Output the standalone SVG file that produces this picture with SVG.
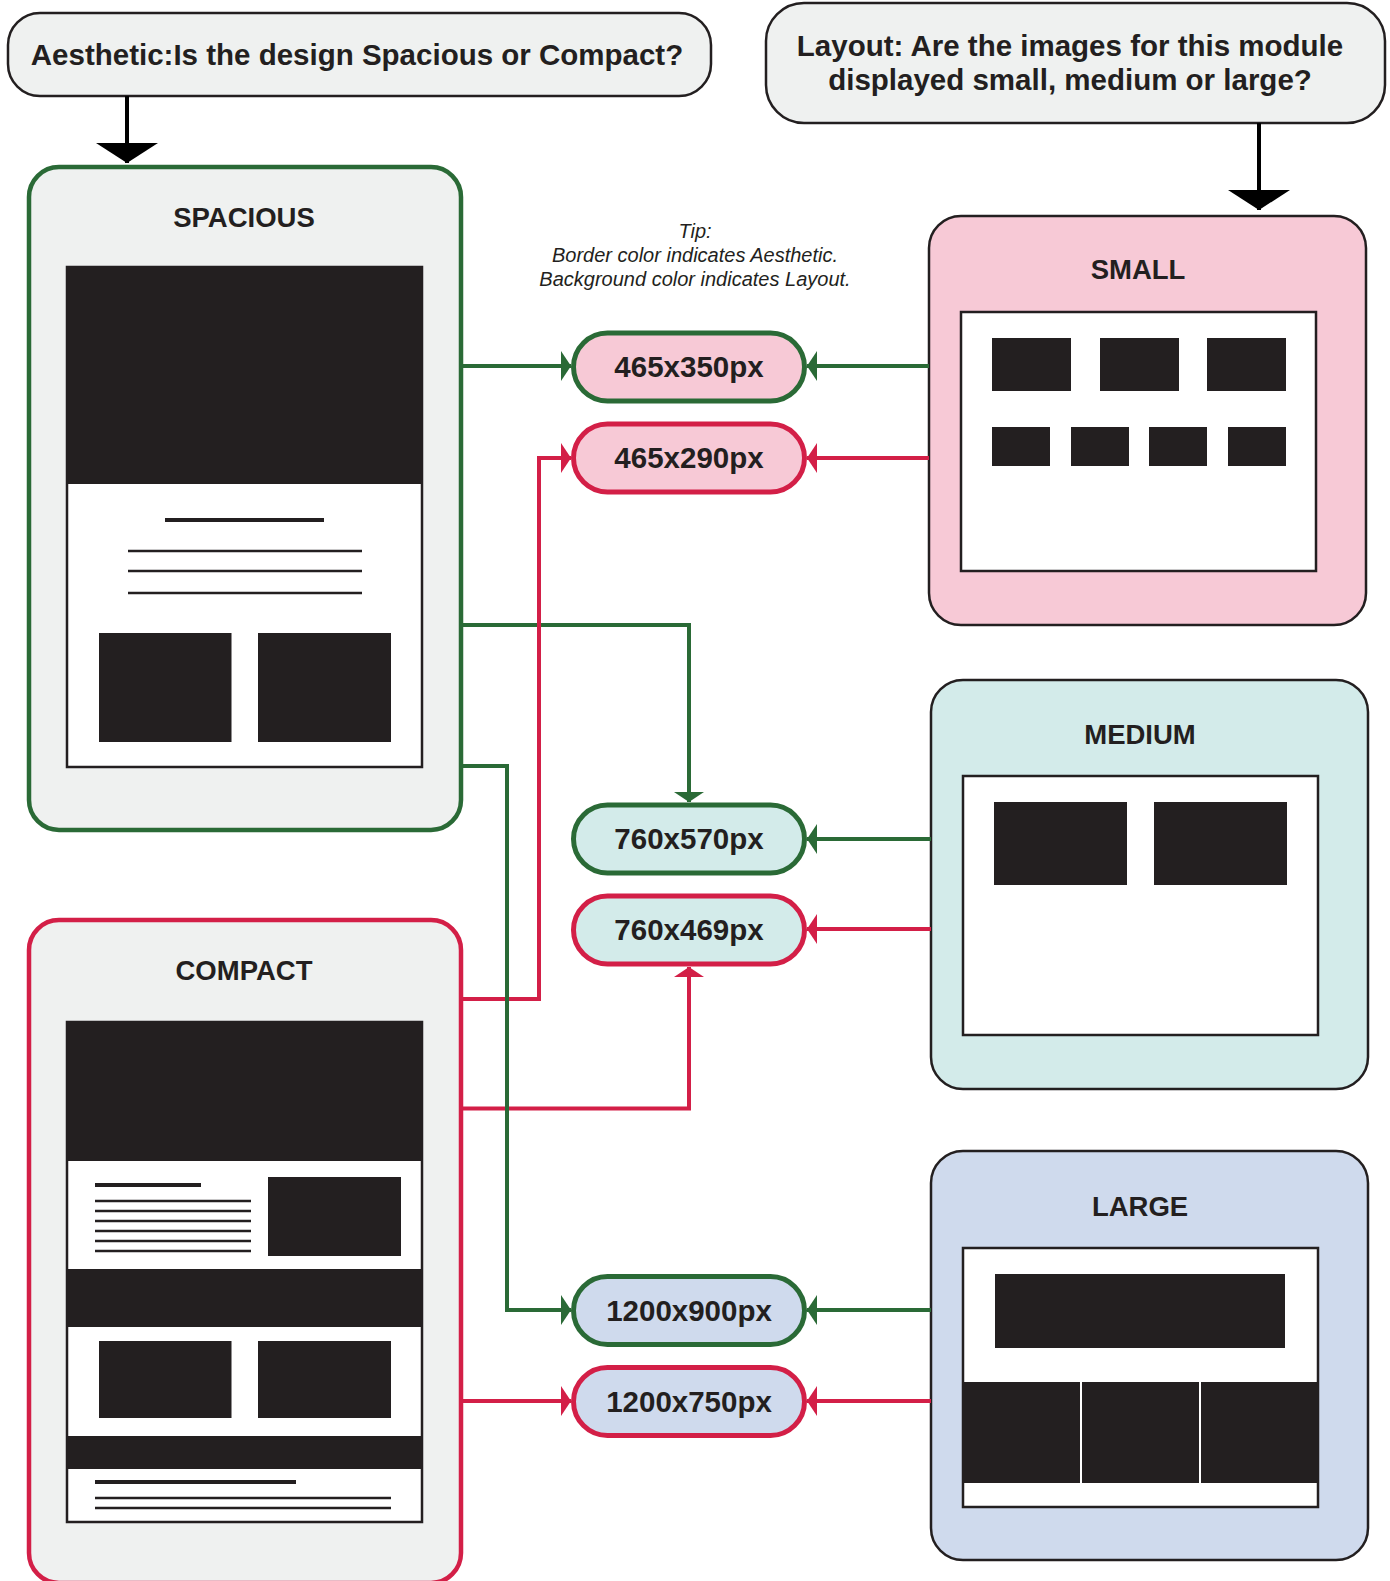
<svg xmlns="http://www.w3.org/2000/svg" width="1390" height="1581" viewBox="0 0 1390 1581">
<defs>
<style>
text{font-family:"Liberation Sans",Arial,Helvetica,sans-serif;fill:#231f20}
.q{fill:#eff1f0;stroke:#231f20;stroke-width:2.5}
.qt{font-size:29.5px;font-weight:bold;text-anchor:middle}
.aes{fill:#eff1f0;stroke-width:4.5}
.g{stroke:#2a6a36}
.r{stroke:#d31f47}
.title{font-size:27.5px;font-weight:bold;text-anchor:middle}
.frame{fill:#fff;stroke:#231f20;stroke-width:2.5}
.blk{fill:#231f20}
.ln{stroke:#231f20;stroke-width:2.5}
.hl{stroke:#231f20;stroke-width:4}
.lay{stroke:#231f20;stroke-width:2.5}
.pink{fill:#f7c9d6}
.teal{fill:#d3ebea}
.blue{fill:#cfdaed}
.pill{stroke-width:5}
.pt{font-size:29.5px;font-weight:bold;text-anchor:middle}
.tip{font-size:20px;font-style:italic;text-anchor:middle}
.c{fill:none;stroke-width:4}
.k{fill:none;stroke:#000;stroke-width:4}
</style>
<marker id="aG" viewBox="0 0 10 30" refX="10" refY="15" markerWidth="10" markerHeight="30" markerUnits="userSpaceOnUse" orient="auto"><path d="M0,0 L10,15 L0,30 z" fill="#2a6a36"/></marker>
<marker id="aR" viewBox="0 0 10 30" refX="10" refY="15" markerWidth="10" markerHeight="30" markerUnits="userSpaceOnUse" orient="auto"><path d="M0,0 L10,15 L0,30 z" fill="#d31f47"/></marker>
<marker id="aK" viewBox="0 0 20 62" refX="20" refY="31" markerWidth="20" markerHeight="62" markerUnits="userSpaceOnUse" orient="auto"><path d="M0,0 L20,31 L0,62 z" fill="#000"/></marker>
</defs>
<rect width="1390" height="1581" fill="#fff"/>

<g id="q-aesthetic">
<rect class="q" x="8" y="13" width="703" height="83" rx="32"/>
<text class="qt" x="357" y="64.5">Aesthetic:Is the design Spacious or Compact?</text>
</g>

<g id="q-layout">
<rect class="q" x="766" y="3" width="619" height="120" rx="38"/>
<text class="qt" x="1070" y="55.5">Layout: Are the images for this module</text>
<text class="qt" x="1070" y="90">displayed small, medium or large?</text>
</g>

<g id="tip">
<text class="tip" x="695" y="238">Tip:</text>
<text class="tip" x="695" y="262">Border color indicates Aesthetic.</text>
<text class="tip" x="695" y="286">Background color indicates Layout.</text>
</g>

<g id="spacious">
<rect class="aes g" x="29" y="167" width="432" height="663" rx="30"/>
<text class="title" x="244" y="227">SPACIOUS</text>
<rect class="frame" x="67" y="267" width="355" height="500"/>
<rect class="blk" x="66" y="266" width="357" height="218"/>
<line class="hl" x1="165" y1="520" x2="324" y2="520"/>
<line class="ln" x1="128" y1="551" x2="362" y2="551"/>
<line class="ln" x1="128" y1="571" x2="362" y2="571"/>
<line class="ln" x1="128" y1="593" x2="362" y2="593"/>
<rect class="blk" x="99" y="633" width="132.5" height="109"/>
<rect class="blk" x="258" y="633" width="133" height="109"/>
</g>

<g id="compact">
<rect class="aes r" x="29" y="920" width="432" height="663" rx="30"/>
<text class="title" x="244" y="980">COMPACT</text>
<rect class="frame" x="67" y="1022" width="355" height="500"/>
<rect class="blk" x="66" y="1021" width="357" height="140"/>
<line class="hl" x1="95" y1="1185" x2="201" y2="1185"/>
<line class="ln" x1="95" y1="1201" x2="251" y2="1201"/>
<line class="ln" x1="95" y1="1211" x2="251" y2="1211"/>
<line class="ln" x1="95" y1="1221" x2="251" y2="1221"/>
<line class="ln" x1="95" y1="1231" x2="251" y2="1231"/>
<line class="ln" x1="95" y1="1241" x2="251" y2="1241"/>
<line class="ln" x1="95" y1="1251" x2="251" y2="1251"/>
<rect class="blk" x="268" y="1177" width="133" height="79"/>
<rect class="blk" x="66" y="1269" width="357" height="58"/>
<rect class="blk" x="99" y="1341" width="132.5" height="77"/>
<rect class="blk" x="258" y="1341" width="133" height="77"/>
<rect class="blk" x="66" y="1436" width="357" height="33"/>
<line class="hl" x1="95" y1="1482" x2="296" y2="1482"/>
<line class="ln" x1="95" y1="1498" x2="391" y2="1498"/>
<line class="ln" x1="95" y1="1508" x2="391" y2="1508"/>
</g>

<g id="small">
<rect class="pink lay" x="929" y="216" width="437" height="409" rx="32"/>
<text class="title" x="1138" y="279">SMALL</text>
<rect class="frame" x="961" y="312" width="355" height="259"/>
<rect class="blk" x="992" y="338" width="79" height="53"/>
<rect class="blk" x="1100" y="338" width="79" height="53"/>
<rect class="blk" x="1207" y="338" width="79" height="53"/>
<rect class="blk" x="992" y="427" width="58" height="39"/>
<rect class="blk" x="1071" y="427" width="58" height="39"/>
<rect class="blk" x="1149" y="427" width="58" height="39"/>
<rect class="blk" x="1228" y="427" width="58" height="39"/>
</g>

<g id="medium">
<rect class="teal lay" x="931" y="680" width="437" height="409" rx="32"/>
<text class="title" x="1140" y="744">MEDIUM</text>
<rect class="frame" x="963" y="776" width="355" height="259"/>
<rect class="blk" x="994" y="802" width="133" height="83"/>
<rect class="blk" x="1154" y="802" width="133" height="83"/>
</g>

<g id="large">
<rect class="blue lay" x="931" y="1151" width="437" height="409" rx="32"/>
<text class="title" x="1140" y="1216">LARGE</text>
<rect class="frame" x="963" y="1248" width="355" height="259"/>
<rect class="blk" x="995" y="1274" width="290" height="74"/>
<rect class="blk" x="963" y="1382" width="355" height="101"/>
<rect fill="#fff" x="1080" y="1382" width="2" height="101"/>
<rect fill="#fff" x="1199" y="1382" width="2" height="101"/>
</g>

<g id="p-465x350">
<rect class="pill pink g" x="573.5" y="333" width="231" height="68" rx="34"/>
<text class="pt" x="689" y="377">465x350px</text>
</g>
<g id="p-465x290">
<rect class="pill pink r" x="573.5" y="424" width="231" height="68" rx="34"/>
<text class="pt" x="689" y="468">465x290px</text>
</g>
<g id="p-760x570">
<rect class="pill teal g" x="573.5" y="805" width="231" height="68" rx="34"/>
<text class="pt" x="689" y="849">760x570px</text>
</g>
<g id="p-760x469">
<rect class="pill teal r" x="573.5" y="896" width="231" height="68" rx="34"/>
<text class="pt" x="689" y="940">760x469px</text>
</g>
<g id="p-1200x900">
<rect class="pill blue g" x="573.5" y="1276.5" width="231" height="68" rx="34"/>
<text class="pt" x="689" y="1320.5">1200x900px</text>
</g>
<g id="p-1200x750">
<rect class="pill blue r" x="573.5" y="1367.5" width="231" height="68" rx="34"/>
<text class="pt" x="689" y="1411.5">1200x750px</text>
</g>

<g id="connectors">
<path class="k" d="M127,96 L127,163" marker-end="url(#aK)"/>
<path class="k" d="M1259,123 L1259,210" marker-end="url(#aK)"/>
<path class="c g" d="M461,366 L571,366" marker-end="url(#aG)"/>
<path class="c g" d="M929,366 L807,366" marker-end="url(#aG)"/>
<path class="c g" d="M461,625 L689,625 L689,802" marker-end="url(#aG)"/>
<path class="c g" d="M931,839 L807,839" marker-end="url(#aG)"/>
<path class="c g" d="M931,1310 L807,1310" marker-end="url(#aG)"/>
<path class="c r" d="M461,999 L539,999 L539,458 L571,458" marker-end="url(#aR)"/>
<path class="c r" d="M929,458 L807,458" marker-end="url(#aR)"/>
<path class="c r" d="M461,1108.5 L689,1108.5 L689,967" marker-end="url(#aR)"/>
<path class="c r" d="M931,929 L807,929" marker-end="url(#aR)"/>
<path class="c r" d="M461,1401 L571,1401" marker-end="url(#aR)"/>
<path class="c r" d="M931,1401 L807,1401" marker-end="url(#aR)"/>
<path class="c g" d="M461,766 L507,766 L507,1310 L571,1310" marker-end="url(#aG)"/>
</g>
</svg>
